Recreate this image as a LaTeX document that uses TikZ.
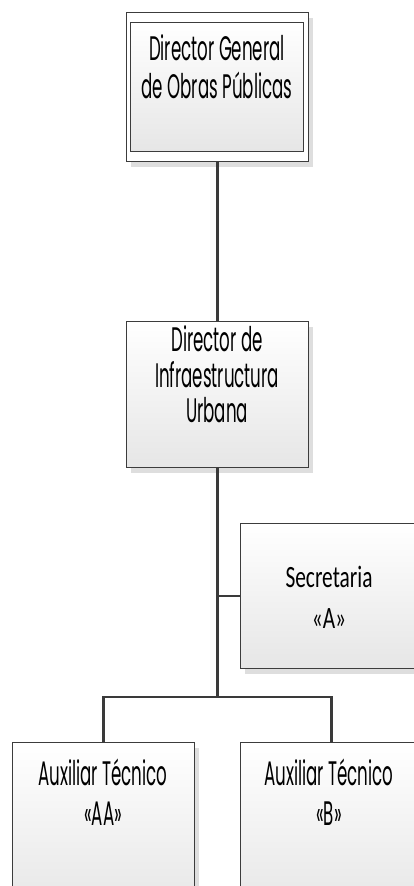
\documentclass[tikz,border=0pt]{standalone}
\usepackage{fontspec}
\newfontfamily\gothic[FakeStretch=0.49]{Poppins}
\newfontfamily\calib[FakeStretch=0.69]{Carlito}
\usetikzlibrary{shadows}
\definecolor{boxline}{HTML}{3C3C3C}
\definecolor{boxbot}{HTML}{E6E6E6}
\definecolor{conncol}{HTML}{3A3A3A}
\begin{document}
\begin{tikzpicture}[x=1pt,y=-1pt,
  box/.style={draw=boxline, line width=1pt, top color=white, bottom color=boxbot,
    anchor=north west, inner sep=0pt, minimum width=182pt, minimum height=146pt,
    drop shadow={shadow xshift=4pt, shadow yshift=-5pt, fill=black!13, opacity=1}},
  outerbox/.style={box, fill=white, top color=white, bottom color=white},
  innerbox/.style={draw=boxline, line width=1pt, top color=white, bottom color=boxbot,
    anchor=north west, inner sep=0pt},
  conn/.style={draw=conncol, line width=2.4pt},
  lbl/.style={anchor=base, inner sep=0pt, text=black, font=\fontsize{34}{34}\selectfont\gothic},
  lblc/.style={anchor=base, inner sep=0pt, text=black, font=\fontsize{31}{31}\selectfont\calib}]
\useasboundingbox (0,0) rectangle (414,886);
\clip (0,0) rectangle (414,886);
% boxes
\node[outerbox, minimum width=182pt, minimum height=149pt] (gen) at (126,12) {};
\node[innerbox, minimum width=173pt, minimum height=129pt] (genin) at (130,22) {};
\node[box] (dir) at (126,321) {};
\node[box, minimum width=180pt, minimum height=145pt] (sec) at (240,523) {};
\node[box, minimum height=170pt] (aux1) at (12,742) {};
\node[box, minimum height=170pt] (aux2) at (240,742) {};
% connectors
\draw[conn] (gen.south) -- (dir.north);
\path (dir.south) ++(0,229) coordinate (bus);
\draw[conn] (dir.south) -- (bus);
\draw[conn] (dir.south |- sec.west) -- (sec.west);
\draw[conn] (aux1.north) |- (bus) -| (aux2.north);
% labels
\node[lbl] (t1a) at (217,60) {Director General};
\node[lbl] (t1b) at (217,98) {de Obras Públicas};
\node[lbl] (t2a) at (217,351) {Director de};
\node[lbl] (t2b) at (217,387) {Infraestructura};
\node[lbl] (t2c) at (217,422) {Urbana};
\node[lblc] (t3a) at (329,587) {Secretaria};
\node[lblc] (t3b) at (329,628) {«A»};
\node[lbl] (t4a) at (103,785) {Auxiliar Técnico};
\node[lbl] (t4b) at (103,825) {«AA»};
\node[lbl] (t5a) at (329,785) {Auxiliar Técnico};
\node[lbl] (t5b) at (329,825) {«B»};
\end{tikzpicture}
\end{document}
